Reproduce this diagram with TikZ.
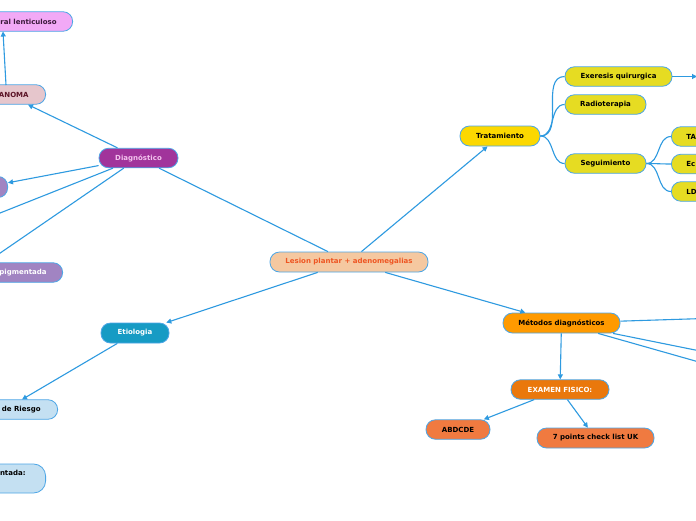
\documentclass[tikz,border=0pt]{standalone}
\usepackage{fontspec}
\setmainfont{DejaVu Sans}
\usetikzlibrary{arrows.meta,calc}
\definecolor{linec}{HTML}{2E9AE0}
\definecolor{bordc}{HTML}{4DA6E6}
\definecolor{cfill}{HTML}{F5C8A0}
\definecolor{ctext}{HTML}{EE5522}
\definecolor{tfill}{HTML}{FCD800}
\definecolor{yfill}{HTML}{E6DC22}
\definecolor{mfill}{HTML}{FF9A00}
\definecolor{efill}{HTML}{EA780C}
\definecolor{ofill}{HTML}{F07A40}
\definecolor{dfill}{HTML}{A1349B}
\definecolor{dtext}{HTML}{F4C4EE}
\definecolor{melfill}{HTML}{E6C6CC}
\definecolor{meltext}{HTML}{5B1326}
\definecolor{lfill}{HTML}{F2A9F6}
\definecolor{ltext}{HTML}{3C1A3C}
\definecolor{pfill}{HTML}{A184C2}
\definecolor{etfill}{HTML}{169BC4}
\definecolor{bfill}{HTML}{C4E0F2}
\tikzset{
  mm/.style={draw=bordc, line width=0.8pt, rounded corners=9.5pt, minimum height=19.5pt,
    inner sep=0pt, font=\fontsize{7}{8}\selectfont\bfseries, text=black},
  edgebox/.style={mm, fill=yfill, anchor=west, inner xsep=15pt, text width=22pt, align=left},
  leftbox/.style={mm, anchor=east, inner xsep=17pt},
  conn/.style={draw=linec, line width=1.1pt},
  arr/.style={conn, -{Triangle[length=5pt,width=5pt]}},
}
\begin{document}
\begin{tikzpicture}[x=1pt,y=-1pt]
\useasboundingbox (0,0) rectangle (696,520);
\clip (0,0) rectangle (696,520);
\fill[white] (0,0) rectangle (696,520);

% nodes
\node[mm, fill=cfill, text=ctext, minimum width=158pt, minimum height=20pt] (central) at (349,262) {Lesion plantar + adenomegalias};
\node[mm, fill=tfill, minimum width=80pt, minimum height=20pt] (trat) at (500,136) {Tratamiento};
\node[mm, fill=yfill, minimum width=107pt] (exer) at (618.5,76.5) {Exeresis quirurgica};
\node[mm, fill=yfill, minimum width=81pt] (radio) at (605.5,104.5) {Radioterapia};
\node[mm, fill=yfill, minimum width=81pt] (segui) at (605.5,163.5) {Seguimiento};
\node[edgebox] (tac) at (671,136.5) {TA};
\node[edgebox] (eco) at (671,164) {Ec};
\node[edgebox] (ldh) at (671,191.5) {LD};
\node[mm, fill=mfill, minimum width=117pt, minimum height=20pt] (metodos) at (561.5,323) {Métodos diagnósticos};
\node[mm, fill=efill, text=white, minimum width=98pt] (examen) at (560,389.5) {EXAMEN FISICO:};
\node[mm, fill=ofill, minimum width=64pt] (abdcde) at (458,429.5) {ABDCDE};
\node[mm, fill=ofill, minimum width=117pt, minimum height=20pt] (seven) at (595.5,438) {7 points check list UK};
\node[mm, fill=dfill, text=dtext, minimum width=79pt] (diag) at (138.5,158) {Diagnóstico};
\node[leftbox, fill=melfill, text=meltext, minimum width=82pt, align=right, text width=48pt] (melanoma) at (46,94.5) {ANOMA};
\node[leftbox, fill=lfill, text=ltext, inner xsep=16pt, minimum width=100pt, align=right, text width=68pt] (lentic) at (73,21.5) {ral lenticuloso};
\node[mm, fill=pfill, anchor=east, minimum width=44pt, minimum height=21pt] (purple) at (8,187) {};
\node[leftbox, fill=pfill, text=white, inner xsep=16pt, align=right, text width=60pt] (pigm) at (63,272.5) {pigmentada};
\node[mm, fill=etfill, text=white, minimum width=68pt, minimum height=20pt] (etio) at (135,333) {Etiologia};
\node[leftbox, fill=bfill, align=right, text width=56pt] (factores) at (58,409.5) {s de Riesgo};
\node[leftbox, fill=bfill, inner xsep=20pt, minimum height=29pt, rounded corners=12pt, align=right, text width=40pt] (nopigm) at (46,478.5) {ntada:\\ \strut};

% off-canvas ends
\coordinate (offR) at (697,76.5);
\coordinate (offL1) at (-10,217);
\coordinate (offL2) at (-10,260);
\coordinate (offM1) at (720,318);
\coordinate (offM2) at (720,355);
\coordinate (offM3) at (720,368);
\coordinate (melTop) at (6,85);
\coordinate (lenBot) at (3,31.5);
\coordinate (factTop) at (22,399.5);

% connectors
\draw[arr] (central) -- (trat);
\draw[arr] (central) -- (metodos);
\draw[arr] (central) -- (etio);
\draw[conn] (central) -- (diag);
\draw[conn] (trat.east) to[out=0,in=180] (exer.west);
\draw[conn] (trat.east) to[out=0,in=180] (radio.west);
\draw[conn] (trat.east) to[out=0,in=180] (segui.west);
\draw[conn] (segui.east) to[out=0,in=180] (tac.west);
\draw[conn] (segui.east) to[out=0,in=180] (eco.west);
\draw[conn] (segui.east) to[out=0,in=180] (ldh.west);
\draw[arr] (exer.east) -- (offR);
\draw[arr] (metodos) -- (examen);
\draw[arr] (examen) -- (abdcde);
\draw[arr] (examen) -- (seven);
\draw[conn] (metodos) -- (offM1);
\draw[conn] (metodos) -- (offM2);
\draw[conn] (metodos) -- (offM3);
\draw[arr] (diag) -- (melanoma.south -| 28,0);
\draw[arr] (melTop) -- (lenBot);
\draw[arr] (diag) -- (purple);
\draw[conn] (diag) -- (offL1);
\draw[conn] (diag) -- (offL2);
\draw[arr] (etio) -- (factTop);
\end{tikzpicture}
\end{document}
